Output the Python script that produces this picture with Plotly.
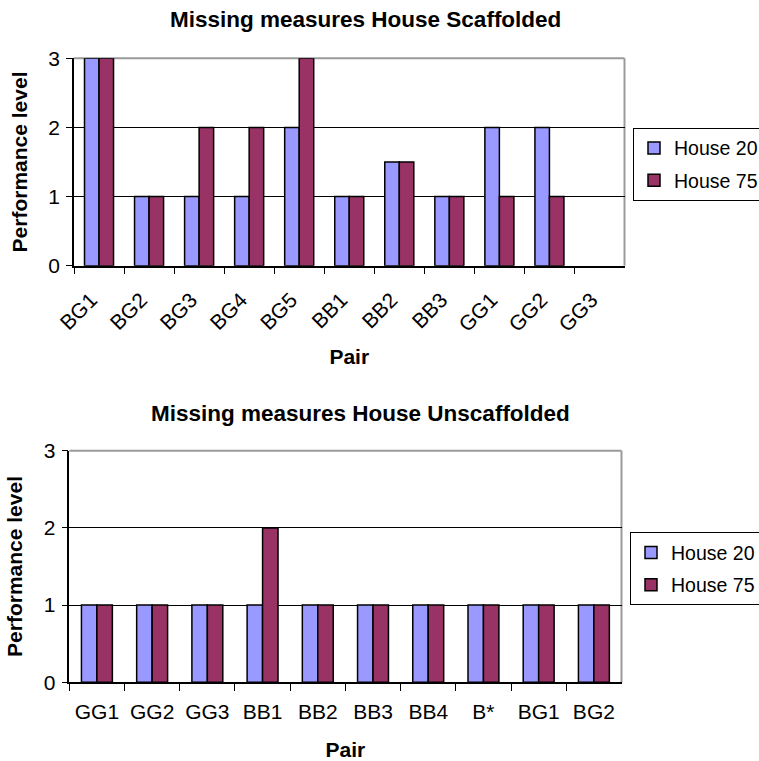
import plotly.graph_objects as go

# Scaffolded condition
pairs_scaffolded = ["BG1", "BG2", "BG3", "BG4", "BG5", "BB1", "BB2", "BB3", "GG1", "GG2", "GG3"]
house20_scaffolded = [3, 1, 1, 1, 2, 1, 1.5, 1, 2, 2, None]
house75_scaffolded = [3, 1, 2, 2, 3, 1, 1.5, 1, 1, 1, None]

# Unscaffolded condition
pairs_unscaffolded = ["GG1", "GG2", "GG3", "BB1", "BB2", "BB3", "BB4", "B*", "BG1", "BG2"]
house20_unscaffolded = [1, 1, 1, 1, 1, 1, 1, 1, 1, 1]
house75_unscaffolded = [1, 1, 1, 2, 1, 1, 1, 1, 1, 1]

series_names = ["House 20", "House 75"]
series_colors = ["#9999FF", "#993366"]

y_ticks = [0, 1, 2, 3]
grid_levels = [1, 2]

W, H = 759, 761
FONT = "Liberation Sans, Arial, sans-serif"


def px_x(x):
    return x / W


def px_y(y):
    return 1 - y / H


fig = go.Figure()

top_vals = [house20_scaffolded, house75_scaffolded]
bot_vals = [house20_unscaffolded, house75_unscaffolded]
bar_w_top = 0.29
bar_w_bot = 0.28

for i, (name, color) in enumerate(zip(series_names, series_colors)):
    fig.add_trace(go.Bar(
        x=pairs_scaffolded, y=top_vals[i], name=name,
        marker=dict(color=color, line=dict(color="black", width=1.5)),
        width=bar_w_top, offset=-bar_w_top if i == 0 else 0,
        xaxis="x", yaxis="y", legend="legend", legendgroup=f"t{i}",
    ))
for i, (name, color) in enumerate(zip(series_names, series_colors)):
    fig.add_trace(go.Bar(
        x=pairs_unscaffolded, y=bot_vals[i], name=name,
        marker=dict(color=color, line=dict(color="black", width=1.5)),
        width=bar_w_bot, offset=-bar_w_bot if i == 0 else 0,
        xaxis="x2", yaxis="y2", legend="legend2", legendgroup=f"b{i}",
    ))

tick_font = dict(family=FONT, size=21, color="black")
title_font = dict(family=FONT, size=21, color="black")
legend_font = dict(family=FONT, size=19.5, color="black")

common_x = dict(
    type="category", showline=True, linecolor="black", linewidth=1.5,
    ticks="outside", tickson="boundaries", ticklen=7, tickcolor="black",
    tickwidth=1, showgrid=False, tickfont=tick_font,
)
# Major ticks carry the labels; the interior grid lines come from minor ticks
common_y = dict(
    range=[0, 3], tickmode="array", tickvals=y_ticks,
    showline=True, linecolor="black", linewidth=1.5,
    ticks="outside", ticklen=6, tickcolor="black", showgrid=False,
    minor=dict(tickmode="array", tickvals=grid_levels, showgrid=True,
               gridcolor="black", gridwidth=1, ticks=""),
    zeroline=False, tickfont=tick_font, ticklabelstandoff=2,
    title=dict(text="<b>Performance level</b>", font=title_font),
)

fig.update_layout(
    width=W, height=H,
    margin=dict(l=0, r=0, t=0, b=0, autoexpand=False),
    paper_bgcolor="white", plot_bgcolor="white",
    barmode="overlay",
    font=dict(family=FONT, size=20, color="black"),
    xaxis=dict(common_x, domain=[px_x(74), px_x(624.5)], anchor="y",
               tickangle=-45, ticklabelstandoff=12, ticklabelshift=-8,
               title=dict(text="<b>Pair</b>", font=title_font, standoff=15)),
    yaxis=dict(common_y, domain=[px_y(265.7), px_y(58.3)], anchor="x"),
    xaxis2=dict(common_x, domain=[px_x(69.3), px_x(621.5)], anchor="y2",
                tickangle=0, ticklabelstandoff=10,
                title=dict(text="<b>Pair</b>", font=title_font, standoff=24)),
    yaxis2=dict(common_y, domain=[px_y(682.3), px_y(450.7)], anchor="x2"),
    legend=dict(x=px_x(633), y=px_y(127.7), xanchor="left", yanchor="top",
                bordercolor="black", borderwidth=1, font=legend_font,
                traceorder="grouped", tracegroupgap=4, bgcolor="white"),
    legend2=dict(x=px_x(630), y=px_y(532.3), xanchor="left", yanchor="top",
                 bordercolor="black", borderwidth=1, font=legend_font,
                 traceorder="grouped", tracegroupgap=4, bgcolor="white"),
    annotations=[
        dict(text="<b>Missing measures House Scaffolded</b>", xref="paper",
             yref="paper", x=px_x(365.5), y=px_y(19), showarrow=False,
             xanchor="center", yanchor="middle",
             font=dict(family=FONT, size=22.5, color="black")),
        dict(text="<b>Missing measures House Unscaffolded</b>", xref="paper",
             yref="paper", x=px_x(360), y=px_y(413), showarrow=False,
             xanchor="center", yanchor="middle",
             font=dict(family=FONT, size=22.5, color="black")),
    ],
)

# Grey frame on the top and right edges of each plot area, under the bars
for xr, yr in [("x", "y"), ("x2", "y2")]:
    fig.add_shape(type="line", xref=f"{xr} domain", yref=f"{yr} domain",
                  x0=0, x1=1, y0=1, y1=1, layer="below",
                  line=dict(color="#9a9a9a", width=2))
    fig.add_shape(type="line", xref=f"{xr} domain", yref=f"{yr} domain",
                  x0=1, x1=1, y0=0, y1=1, layer="below",
                  line=dict(color="#9a9a9a", width=2))

fig.write_html("out.html")
